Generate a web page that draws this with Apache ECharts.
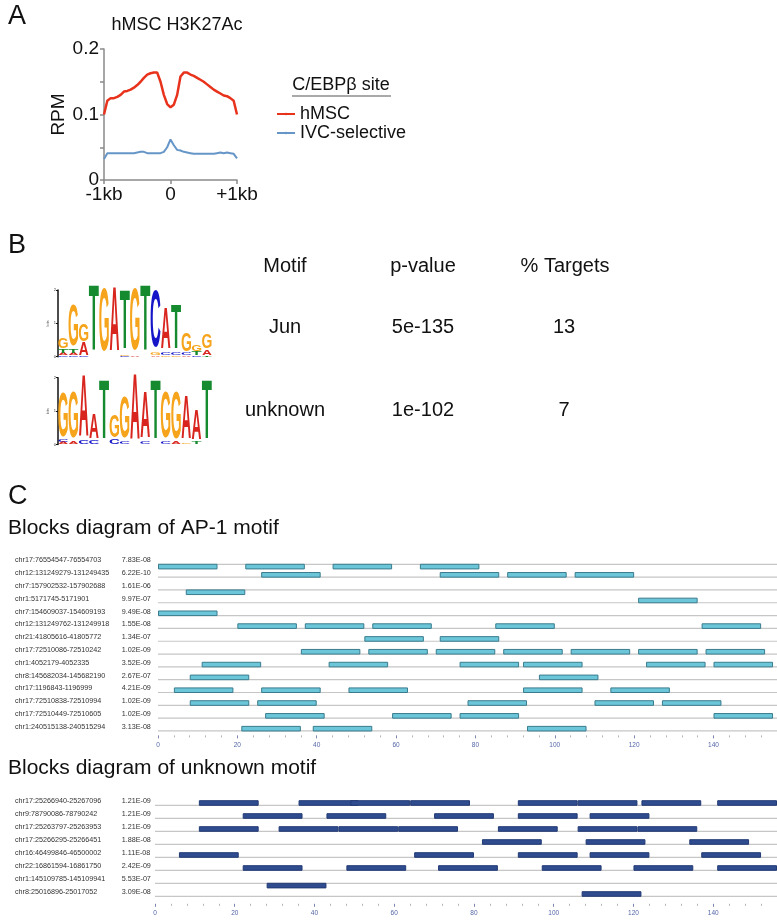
<!DOCTYPE html>
<html><head><meta charset="utf-8">
<script src="https://cdn.jsdelivr.net/npm/echarts@6/dist/echarts.min.js"></script>
<style>html,body{margin:0;padding:0;background:#fff}#c{width:777px;height:921px}</style>
</head><body><div id="c"></div>
<script>
// ---------------- DATA ----------------
// Panel A: H3K27Ac profile (position in kb, RPM)
const profilePos = [-1,-0.95,-0.9,-0.85,-0.8,-0.75,-0.7,-0.65,-0.6,-0.55,-0.5,-0.45,-0.4,-0.35,-0.3,-0.25,-0.2,-0.15,-0.1,-0.05,0,0.05,0.1,0.15,0.2,0.25,0.3,0.35,0.4,0.45,0.5,0.55,0.6,0.65,0.7,0.75,0.8,0.85,0.9,0.95,1];
const hmscRPM = [0.100,0.121,0.125,0.125,0.127,0.130,0.135,0.136,0.138,0.141,0.145,0.150,0.156,0.161,0.163,0.164,0.164,0.150,0.130,0.116,0.111,0.115,0.130,0.158,0.164,0.164,0.161,0.159,0.156,0.153,0.150,0.146,0.142,0.138,0.135,0.132,0.129,0.128,0.125,0.121,0.100];
const ivcRPM = [0.032,0.041,0.041,0.041,0.041,0.041,0.041,0.041,0.041,0.041,0.042,0.043,0.043,0.041,0.041,0.041,0.041,0.041,0.043,0.050,0.062,0.053,0.046,0.045,0.043,0.042,0.041,0.040,0.040,0.040,0.040,0.040,0.040,0.040,0.041,0.042,0.041,0.042,0.041,0.040,0.033];
const profileTickLabels = {'-1':'-1kb','0':'0','1':'+1kb'};
const seriesNames = ['hMSC','IVC-selective'];

// Panel B: motif logos (per position, letters stacked bottom->top with bits)
const junLogo = [
  [['C',0.03],['A',0.07],['T',0.12],['G',0.30]],
  [['C',0.03],['A',0.06],['T',0.12],['G',1.25]],
  [['C',0.02],['A',0.40],['G',0.50]],
  [['T',1.98]],
  [['G',1.92]],
  [['A',1.95]],
  [['C',0.03],['G',0.04],['T',1.78]],
  [['A',0.03],['G',1.87]],
  [['T',1.98]],
  [['A',0.05],['G',0.08],['C',1.72]],
  [['G',0.05],['C',0.08],['A',1.25]],
  [['G',0.05],['C',0.08],['T',1.35]],
  [['A',0.05],['C',0.07],['G',0.55]],
  [['C',0.05],['T',0.10],['G',0.20]],
  [['T',0.05],['A',0.15],['G',0.45]]
];
const unknownLogo = [
  [['A',0.06],['C',0.06],['G',1.36]],
  [['A',0.08],['G',1.40]],
  [['C',0.10],['A',1.88]],
  [['C',0.12],['A',0.76]],
  [['T',1.78]],
  [['C',0.15],['G',0.68]],
  [['C',0.08],['G',1.25]],
  [['A',1.98]],
  [['C',0.08],['A',1.40]],
  [['T',1.78]],
  [['C',0.08],['G',1.40]],
  [['A',0.06],['G',1.42]],
  [['G',0.05],['A',1.33]],
  [['T',0.08],['A',0.90]],
  [['T',1.78]]
];
const tableHeader = ['Motif','p-value','% Targets'];
const motifNames = ['Jun','unknown'];
const motifPvalues = ['5e-135','1e-102'];
const motifTargets = ['13','7'];

// Panel C: block diagrams
const motifLength = 15;
const ap1Regions = ['chr17:76554547-76554703','chr12:131249279-131249435','chr7:157902532-157902688','chr1:5171745-5171901','chr7:154609037-154609193','chr12:131249762-131249918','chr21:41805616-41805772','chr17:72510086-72510242','chr1:4052179-4052335','chr8:145682034-145682190','chr17:1196843-1196999','chr17:72510838-72510994','chr17:72510449-72510605','chr1:240515138-240515294'];
const ap1Pvals = ['7.83E-08','6.22E-10','1.61E-06','9.97E-07','9.49E-08','1.55E-08','1.34E-07','1.02E-09','3.52E-09','2.67E-07','4.21E-09','1.02E-09','1.02E-09','3.13E-08'];
const ap1Strand = ['-','+','-','+','+','+','+','+','+','+','+','+','+','+'];
const ap1Starts = [
  [0,22,44,66],
  [26,71,88,105],
  [7],
  [121],
  [0],
  [20,37,54,85,137],
  [52,71],
  [36,53,70,87,104,121,138],
  [11,43,76,92,123,140],
  [8,96],
  [4,26,48,92,114],
  [8,25,78,110,127],
  [27,59,76,140],
  [21,39,93]
];
const unkRegions = ['chr17:25266940-25267096','chr9:78790086-78790242','chr17:25263797-25263953','chr17:25266295-25266451','chr16:46499846-46500002','chr22:16861594-16861750','chr1:145109785-145109941','chr8:25016896-25017052'];
const unkPvals = ['1.21E-09','1.21E-09','1.21E-09','1.88E-08','1.11E-08','2.42E-09','5.53E-07','3.09E-08'];
const unkStrand = ['+','+','+','+','+','+','-','+'];
const unkStarts = [
  [11,36,49,64,91,106,122,141],
  [22,43,70,91,109],
  [11,31,46,61,86,106,121],
  [82,108,134],
  [6,65,91,109,137],
  [22,48,71,97,120,141],
  [28],
  [107]
];
const blockAxisMax = 156;

// ---------------- RENDER ----------------
const FONT = 'Liberation Sans';
const LETTERS = ['A','C','G','T'];
const LCOLOR = {A:'#d8261f', C:'#1616c8', G:'#f5a41c', T:'#168a2e'};
const LINK = {A:0.70, C:0.64, G:0.69, T:0.58};

function flattenLogo(logo){
  const out = [];
  logo.forEach((stack, i) => {
    let base = 0;
    stack.forEach(([L, h]) => { out.push([i + 1, base, h, LETTERS.indexOf(L)]); base += h; });
  });
  return out;
}
function logoRender(params, api){
  const pos = api.value(0), base = api.value(1), h = api.value(2), L = LETTERS[api.value(3)];
  const p0 = api.coord([pos - 0.47, base]);
  const p1 = api.coord([pos + 0.47, base + h]);
  const w = p1[0] - p0[0], hp = p0[1] - p1[1];
  if (hp < 0.4) return null;
  const F = 100;
  return {type:'text', x:(p0[0]+p1[0])/2, y:(p0[1]+p1[1])/2 + 0.012*hp,
    scaleX: w/(LINK[L]*F), scaleY: hp/(0.716*F),
    style:{text:L, fontSize:F, fontFamily:FONT, fontWeight:'bold', fill:LCOLOR[L], align:'center', verticalAlign:'middle'}};
}
function blockRenderFactory(starts, strand, fill, stroke){
  return function(params, api){
    const row = api.value(1);
    const c0 = api.coord([0, row]);
    const lineY = c0[1] + 4;
    const children = [{type:'line', shape:{x1:c0[0], y1:lineY, x2:777, y2:lineY}, style:{stroke:'#c6c6c6', lineWidth:1.2}}];
    const bh = 4.6;
    starts[row].forEach(s => {
      const x0 = api.coord([s, row])[0];
      const x1 = api.coord([s + motifLength, row])[0];
      const y = strand[row] === '+' ? lineY - bh : lineY;
      children.push({type:'rect', shape:{x:x0+0.5, y:y, width:x1-x0-1, height:bh}, style:{fill:fill, stroke:stroke, lineWidth:1}});
    });
    return {type:'group', children};
  };
}
function blockYAxis(gridIndex, regions, pvals, margin){
  return {gridIndex, type:'category', data:regions, inverse:true,
    axisLine:{show:false}, axisTick:{show:false}, splitLine:{show:false},
    axisLabel:{margin, align:'left', interval:0,
      formatter:(v, i) => '{n|' + v + '}{p|' + pvals[i] + '}',
      rich:{n:{width:106.7, fontSize:7.2, fontFamily:FONT, color:'#333'}, p:{fontSize:7.2, fontFamily:FONT, color:'#333'}}}};
}
function blockXAxis(gridIndex, offset){
  return {gridIndex, type:'value', min:0, max:blockAxisMax, interval:20, offset,
    axisLine:{show:false, onZero:false}, splitLine:{show:false},
    axisTick:{show:true, length:3, lineStyle:{color:'#7c86b0', width:1}},
    minorTick:{show:true, splitNumber:5, length:2, lineStyle:{color:'#b4b4b4', width:1}},
    axisLabel:{fontSize:6.5, fontFamily:FONT, color:'#5567a8', margin:6, showMaxLabel:false,
      formatter:v => (v % 20 === 0) ? String(v) : ''}};
}
function logoAxes(gridIndex){
  return [
    {gridIndex, type:'value', min:0.5, max:15.5, interval:1,
      axisLine:{show:false, onZero:false}, axisTick:{show:false}, splitLine:{show:false},
      axisLabel:{fontSize:4, color:'#6070a0', rotate:90, margin:2, formatter:v => (v>=1 && v<=15 && Number.isInteger(v)) ? String(v) : ''}},
    {gridIndex, type:'value', min:0, max:2, interval:1, name:'bits', nameLocation:'middle', nameGap:7,
      nameTextStyle:{fontSize:4, color:'#555'},
      axisLine:{show:true, onZero:false, lineStyle:{color:'#111', width:1.5}}, axisTick:{show:true, length:2, lineStyle:{color:'#111'}},
      splitLine:{show:false}, axisLabel:{fontSize:4, color:'#333', margin:2}}
  ];
}

const chart = echarts.init(document.getElementById('c'), null, {renderer:'canvas'});
const lx = logoAxes(1), lx2 = logoAxes(2);
const txt = (text, x, y, size, opts) => ({type:'text', x, y, style:Object.assign({text, fontSize:size, fontFamily:FONT, fill:'#111', align:'center', verticalAlign:'middle'}, (opts||{}))});

chart.setOption({
  animation:false,
  backgroundColor:'#fff',
  grid:[
    {left:104, top:49, width:133, height:131},
    {left:58, top:290, width:154, height:66.7},
    {left:58, top:377.7, width:154, height:66.7},
    {left:158, top:553.9, width:156*3.97, height:14*12.82},
    {left:155, top:794.8, width:622, height:8*13}
  ],
  legend:{data:seriesNames, left:276, top:105, orient:'vertical', itemGap:1, itemWidth:18, itemHeight:3, padding:0,
    textStyle:{fontSize:18, fontFamily:FONT, color:'#111', padding:[0,0,0,0]}},
  xAxis:[
    {gridIndex:0, type:'value', min:-1, max:1, interval:1,
      axisLine:{onZero:false, lineStyle:{color:'#8a8a8a', width:1.5}}, axisTick:{length:4, lineStyle:{color:'#8a8a8a', width:1.5}},
      splitLine:{show:false}, axisLabel:{fontSize:19, fontFamily:FONT, color:'#111', margin:5, formatter:v => profileTickLabels[String(v)]}},
    lx[0], lx2[0],
    blockXAxis(3, 2), blockXAxis(4, 5)
  ],
  yAxis:[
    {gridIndex:0, type:'value', min:0, max:0.2, interval:0.05, name:'RPM', nameLocation:'middle', nameGap:36,
      nameTextStyle:{fontSize:19, fontFamily:FONT, color:'#111'},
      axisLine:{show:true, onZero:false, lineStyle:{color:'#8a8a8a', width:1.5}}, axisTick:{show:true, length:4, lineStyle:{color:'#8a8a8a', width:1.5}},
      splitLine:{show:false},
      axisLabel:{fontSize:19, fontFamily:FONT, color:'#111', margin:5, formatter:v => {
        if (Math.abs(v) < 1e-9) return '0'; if (Math.abs(v-0.1) < 1e-9) return '0.1'; if (Math.abs(v-0.2) < 1e-9) return '0.2'; return ''; }}},
    lx[1], lx2[1],
    blockYAxis(3, ap1Regions, ap1Pvals, 143),
    blockYAxis(4, unkRegions, unkPvals, 140)
  ],
  series:[
    {name:seriesNames[0], type:'line', xAxisIndex:0, yAxisIndex:0, showSymbol:false, symbol:'none',
      lineStyle:{color:'#e8321c', width:2.5}, itemStyle:{color:'#e8321c'},
      data:profilePos.map((x,i) => [x, hmscRPM[i]])},
    {name:seriesNames[1], type:'line', xAxisIndex:0, yAxisIndex:0, showSymbol:false, symbol:'none',
      lineStyle:{color:'#6696c8', width:2}, itemStyle:{color:'#6696c8'},
      data:profilePos.map((x,i) => [x, ivcRPM[i]])},
    {type:'custom', xAxisIndex:1, yAxisIndex:1, renderItem:logoRender, clip:false, encode:{x:0, y:1}, data:flattenLogo(junLogo)},
    {type:'custom', xAxisIndex:2, yAxisIndex:2, renderItem:logoRender, clip:false, encode:{x:0, y:1}, data:flattenLogo(unknownLogo)},
    {type:'custom', xAxisIndex:3, yAxisIndex:3, clip:false, encode:{x:0, y:1},
      renderItem:blockRenderFactory(ap1Starts, ap1Strand, '#6cc6d9', '#3a7c8d'),
      data:ap1Regions.map((r,i) => [0, i])},
    {type:'custom', xAxisIndex:4, yAxisIndex:4, clip:false, encode:{x:0, y:1},
      renderItem:blockRenderFactory(unkStarts, unkStrand, '#2f4c8f', '#223a74'),
      data:unkRegions.map((r,i) => [0, i])}
  ],
  graphic:[
    txt('A', 8, 17, 27, {align:'left'}),
    txt('hMSC H3K27Ac', 177, 25, 18),
    txt('C/EBPβ site', 341, 85, 18),
    {type:'line', shape:{x1:292, y1:96, x2:391, y2:96}, style:{stroke:'#555', lineWidth:1.2}},
    txt('B', 8, 246, 27, {align:'left'}),
    txt(tableHeader[0], 285, 266, 20), txt(tableHeader[1], 423, 266, 20), txt(tableHeader[2], 565, 266, 20),
    txt(motifNames[0], 285, 327, 20), txt(motifPvalues[0], 423, 327, 20), txt(motifTargets[0], 564, 327, 20),
    txt(motifNames[1], 285, 410, 20), txt(motifPvalues[1], 423, 410, 20), txt(motifTargets[1], 564, 410, 20),
    txt('C', 8, 497, 27, {align:'left'}),
    txt('Blocks diagram of AP-1 motif', 8, 528, 21, {align:'left'}),
    txt('Blocks diagram of unknown motif', 8, 768, 21, {align:'left'})
  ]
});
</script></body></html>
